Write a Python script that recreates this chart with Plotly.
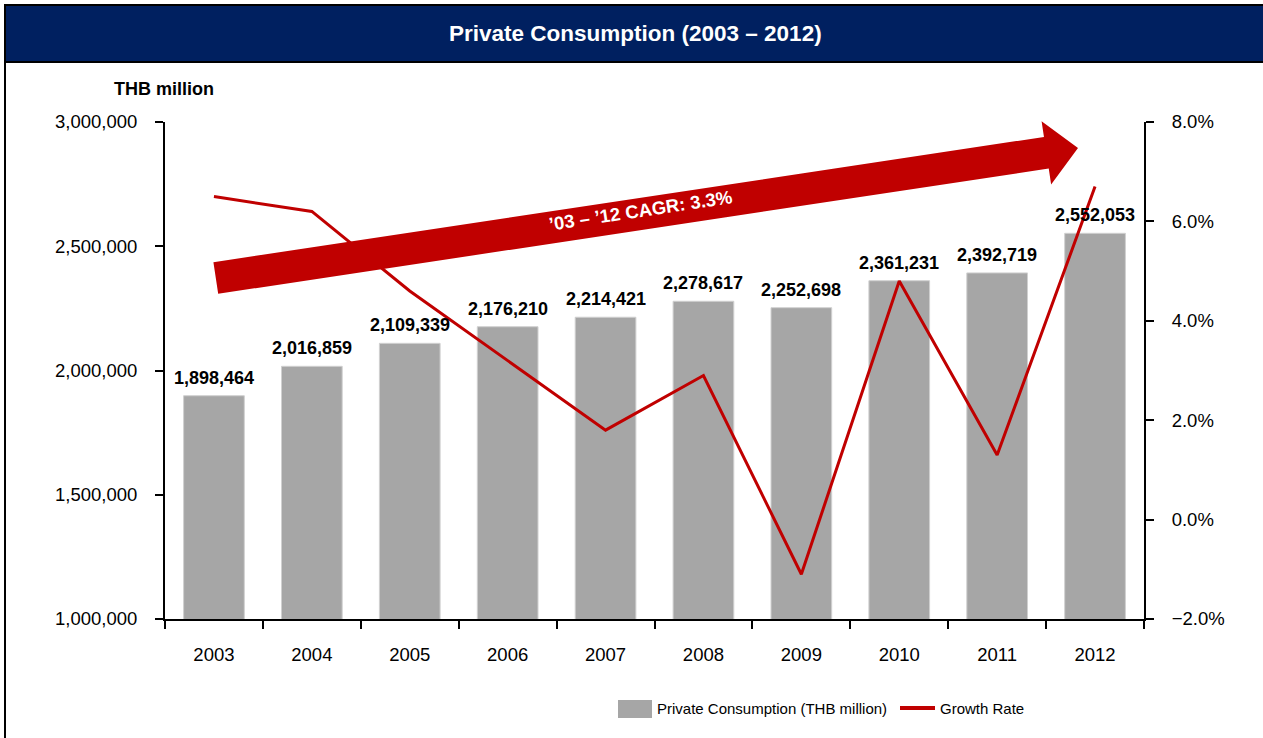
import math
import plotly.graph_objects as go

# ---- data -------------------------------------------------------------
years = ["2003", "2004", "2005", "2006", "2007", "2008", "2009", "2010", "2011", "2012"]
consumption = [1898464, 2016859, 2109339, 2176210, 2214421, 2278617, 2252698, 2361231, 2392719, 2552053]
growth_rate = [0.065, 0.062, 0.046, 0.032, 0.018, 0.029, -0.011, 0.048, 0.013, 0.067]
left_ticks = [1000000, 1500000, 2000000, 2500000, 3000000]
right_ticks = [-0.02, 0.0, 0.02, 0.04, 0.06, 0.08]

# ---- layout geometry (pixels) -----------------------------------------
W, H = 1263, 738
ML, MR, MT, MB = 165, 119, 122, 119
PW, PH = W - ML - MR, H - MT - MB

FONT = "Arial, Liberation Sans, sans-serif"
NAVY = "#002060"
RED = "#c00000"
GREY = "#a6a6a6"


def px(x):
    return (x - ML) / PW


def py(y):
    return (H - MB - y) / PH


fig = go.Figure()

fig.add_trace(go.Bar(
    x=years, y=consumption, name="Private Consumption (THB million)",
    marker=dict(color=GREY, line=dict(color="#d0d0d0", width=1)),
    yaxis="y", showlegend=False, hoverinfo="x+y",
))

fig.add_trace(go.Scatter(
    x=years, y=growth_rate, name="Growth Rate", mode="lines",
    line=dict(color=RED, width=3), yaxis="y2", showlegend=False,
))

annotations = []

# value labels above the bars (x given as category index)
for i, v in enumerate(consumption):
    annotations.append(dict(
        x=i, y=v, xref="x", yref="y", text=f"<b>{v:,}</b>",
        showarrow=False, xanchor="center", yanchor="bottom", yshift=6,
        font=dict(family=FONT, size=18, color="black"),
    ))

shapes = []

# title band and frame
shapes.append(dict(type="rect", xref="paper", yref="paper",
                   x0=px(5), x1=px(1265), y0=py(62), y1=py(5),
                   fillcolor=NAVY, line=dict(color="black", width=2), layer="above"))
shapes.append(dict(type="line", xref="paper", yref="paper",
                   x0=px(5), x1=px(5), y0=py(5), y1=py(740),
                   line=dict(color="black", width=2)))

# CAGR arrow, built in pixel space then mapped to paper units
tail = (215.8, 278.0)
tip = (1078.0, 148.0)
shaft_w, head_w, head_l = 32.0, 64.0, 32.0
dx, dy = tip[0] - tail[0], tip[1] - tail[1]
L = math.hypot(dx, dy)
ux, uy = dx / L, dy / L
nx, ny = -uy, ux
bx, by = tip[0] - ux * head_l, tip[1] - uy * head_l
pts = [
    (tail[0] + nx * shaft_w / 2, tail[1] + ny * shaft_w / 2),
    (bx + nx * shaft_w / 2, by + ny * shaft_w / 2),
    (bx + nx * head_w / 2, by + ny * head_w / 2),
    tip,
    (bx - nx * head_w / 2, by - ny * head_w / 2),
    (bx - nx * shaft_w / 2, by - ny * shaft_w / 2),
    (tail[0] - nx * shaft_w / 2, tail[1] - ny * shaft_w / 2),
]
path = "M " + " L ".join(f"{px(a):.5f},{py(b):.5f}" for a, b in pts) + " Z"
shapes.append(dict(type="path", xref="paper", yref="paper", path=path,
                   fillcolor=RED, line=dict(color=RED, width=0), layer="above"))
angle = math.degrees(math.atan2(dy, dx))

# legend swatches
shapes.append(dict(type="rect", xref="paper", yref="paper",
                   x0=px(618), x1=px(652), y0=py(718), y1=py(700),
                   fillcolor=GREY, line=dict(width=0)))
shapes.append(dict(type="line", xref="paper", yref="paper",
                   x0=px(900), x1=px(935), y0=py(708), y1=py(708),
                   line=dict(color=RED, width=4)))

annotations += [
    dict(x=px(635), y=py(34), xref="paper", yref="paper",
         xanchor="center", yanchor="middle",
         text="<b>Private Consumption (2003 – 2012)</b>", showarrow=False,
         font=dict(family=FONT, size=22.5, color="white")),
    dict(x=px(164), y=py(89), xref="paper", yref="paper",
         xanchor="center", yanchor="middle",
         text="<b>THB million</b>", showarrow=False,
         font=dict(family=FONT, size=18, color="black")),
    dict(x=px(640), y=py(211), xref="paper", yref="paper",
         xanchor="center", yanchor="middle",
         text="<b>’03 – ’12 CAGR: 3.3%</b>", showarrow=False, textangle=angle,
         font=dict(family=FONT, size=18.5, color="white")),
    dict(x=px(655), y=py(708), xref="paper", yref="paper",
         xanchor="left", yanchor="middle",
         text="Private Consumption (THB million)", showarrow=False,
         font=dict(family=FONT, size=15, color="black")),
    dict(x=px(938), y=py(708), xref="paper", yref="paper",
         xanchor="left", yanchor="middle",
         text="Growth Rate", showarrow=False,
         font=dict(family=FONT, size=15, color="black")),
]

axis_font = dict(family=FONT, size=18.5, color="black")

fig.update_layout(
    width=W, height=H,
    margin=dict(l=ML, r=MR, t=MT, b=MB),
    paper_bgcolor="white", plot_bgcolor="white",
    bargap=0.38,
    showlegend=False,
    shapes=shapes,
    annotations=annotations,
    xaxis=dict(
        type="category", categoryorder="array", categoryarray=years,
        range=[-0.5, len(years) - 0.5],
        showline=True, linecolor="black", linewidth=2,
        ticks="outside", tickson="boundaries", ticklen=8, tickwidth=2, tickcolor="black",
        tickfont=axis_font, ticklabelstandoff=18, showgrid=False, zeroline=False,
    ),
    yaxis=dict(
        range=[1000000, 3000000], tickvals=left_ticks, tickformat=",",
        showline=True, linecolor="black", linewidth=2,
        ticks="outside", ticklen=8, tickwidth=2, tickcolor="black",
        tickfont=axis_font, ticklabelstandoff=14, showgrid=False, zeroline=False,
    ),
    yaxis2=dict(
        range=[-0.02, 0.08], tickvals=right_ticks, tickformat=".1%",
        overlaying="y", side="right",
        showline=True, linecolor="black", linewidth=2,
        ticks="outside", ticklen=8, tickwidth=2, tickcolor="black",
        tickfont=axis_font, ticklabelstandoff=14, showgrid=False, zeroline=False,
    ),
)

fig.write_html("out.html")
